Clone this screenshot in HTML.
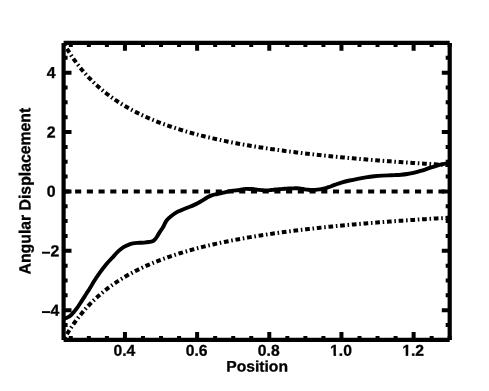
<!DOCTYPE html>
<html><head><meta charset="utf-8"><title>Angular Displacement vs Position</title>
<style>
html,body{margin:0;padding:0;background:#fff;}
body{width:489px;height:391px;overflow:hidden;}
svg{display:block;}
text{font-family:"Liberation Sans",sans-serif;font-weight:bold;font-size:15.7px;fill:#000;stroke:#000;stroke-width:0.3px;}
.yt{font-size:15.9px;}
</style></head><body>
<svg style="will-change:transform" width="489" height="391" viewBox="0 0 489 391">
<rect x="0" y="0" width="489" height="391" fill="#fff"/>
<clipPath id="c"><rect x="61.6" y="40.95" width="390.09999999999997" height="300.95"/></clipPath>
<g clip-path="url(#c)" fill="none" stroke="#000">
<path d="M63.6 191.42499999999998 H449.7" stroke-width="4" stroke-dasharray="6.1 5.62" stroke-dashoffset="0.2"/>
<path d="M63.60 42.95 L64.89 45.22 L66.17 47.42 L67.46 49.55 L68.75 51.62 L70.03 53.63 L71.32 55.59 L72.61 57.49 L73.90 59.34 L75.18 61.13 L76.47 62.88 L77.76 64.59 L79.04 66.24 L80.33 67.86 L81.62 69.43 L82.91 70.97 L84.19 72.47 L85.48 73.93 L86.77 75.35 L88.05 76.74 L89.34 78.10 L90.63 79.42 L91.91 80.72 L93.20 81.98 L94.49 83.22 L95.78 84.43 L97.06 85.61 L98.35 86.77 L99.64 87.90 L100.92 89.01 L102.21 90.09 L103.50 91.15 L104.78 92.19 L106.07 93.21 L107.36 94.21 L108.64 95.18 L109.93 96.14 L111.22 97.08 L112.51 98.00 L113.79 98.90 L115.08 99.79 L116.37 100.66 L117.65 101.51 L118.94 102.35 L120.23 103.17 L121.52 103.97 L122.80 104.77 L124.09 105.54 L125.38 106.31 L126.66 107.06 L127.95 107.79 L129.24 108.52 L130.52 109.23 L131.81 109.93 L133.10 110.62 L134.38 111.29 L135.67 111.96 L136.96 112.61 L138.25 113.26 L139.53 113.89 L140.82 114.51 L142.11 115.13 L143.39 115.73 L144.68 116.32 L145.97 116.91 L147.25 117.48 L148.54 118.05 L149.83 118.61 L151.12 119.16 L152.40 119.70 L153.69 120.23 L154.98 120.76 L156.26 121.27 L157.55 121.78 L158.84 122.29 L160.12 122.78 L161.41 123.27 L162.70 123.75 L163.99 124.23 L165.27 124.70 L166.56 125.16 L167.85 125.61 L169.13 126.06 L170.42 126.51 L171.71 126.94 L173.00 127.38 L174.28 127.80 L175.57 128.22 L176.86 128.64 L178.14 129.04 L179.43 129.45 L180.72 129.85 L182.00 130.24 L183.29 130.63 L184.58 131.01 L185.87 131.39 L187.15 131.77 L188.44 132.13 L189.73 132.50 L191.01 132.86 L192.30 133.22 L193.59 133.57 L194.87 133.92 L196.16 134.26 L197.45 134.60 L198.73 134.93 L200.02 135.26 L201.31 135.59 L202.60 135.92 L203.88 136.24 L205.17 136.55 L206.46 136.86 L207.74 137.17 L209.03 137.48 L210.32 137.78 L211.60 138.08 L212.89 138.38 L214.18 138.67 L215.47 138.96 L216.75 139.24 L218.04 139.53 L219.33 139.81 L220.61 140.08 L221.90 140.36 L223.19 140.63 L224.47 140.90 L225.76 141.16 L227.05 141.42 L228.34 141.68 L229.62 141.94 L230.91 142.19 L232.20 142.45 L233.48 142.70 L234.77 142.94 L236.06 143.19 L237.34 143.43 L238.63 143.67 L239.92 143.91 L241.21 144.14 L242.49 144.37 L243.78 144.60 L245.07 144.83 L246.35 145.06 L247.64 145.28 L248.93 145.50 L250.21 145.72 L251.50 145.94 L252.79 146.15 L254.08 146.37 L255.36 146.58 L256.65 146.79 L257.94 146.99 L259.22 147.20 L260.51 147.40 L261.80 147.60 L263.08 147.80 L264.37 148.00 L265.66 148.20 L266.95 148.39 L268.23 148.58 L269.52 148.77 L270.81 148.96 L272.09 149.15 L273.38 149.34 L274.67 149.52 L275.95 149.70 L277.24 149.88 L278.53 150.06 L279.82 150.24 L281.10 150.42 L282.39 150.59 L283.68 150.77 L284.96 150.94 L286.25 151.11 L287.54 151.28 L288.82 151.45 L290.11 151.61 L291.40 151.78 L292.69 151.94 L293.97 152.10 L295.26 152.26 L296.55 152.42 L297.83 152.58 L299.12 152.74 L300.41 152.89 L301.69 153.05 L302.98 153.20 L304.27 153.35 L305.56 153.50 L306.84 153.65 L308.13 153.80 L309.42 153.95 L310.70 154.10 L311.99 154.24 L313.28 154.38 L314.56 154.53 L315.85 154.67 L317.14 154.81 L318.43 154.95 L319.71 155.09 L321.00 155.22 L322.29 155.36 L323.57 155.50 L324.86 155.63 L326.15 155.76 L327.44 155.90 L328.72 156.03 L330.01 156.16 L331.30 156.29 L332.58 156.42 L333.87 156.54 L335.16 156.67 L336.44 156.80 L337.73 156.92 L339.02 157.04 L340.31 157.17 L341.59 157.29 L342.88 157.41 L344.17 157.53 L345.45 157.65 L346.74 157.77 L348.03 157.89 L349.31 158.00 L350.60 158.12 L351.89 158.24 L353.17 158.35 L354.46 158.46 L355.75 158.58 L357.04 158.69 L358.32 158.80 L359.61 158.91 L360.90 159.02 L362.18 159.13 L363.47 159.24 L364.76 159.35 L366.05 159.46 L367.33 159.56 L368.62 159.67 L369.91 159.77 L371.19 159.88 L372.48 159.98 L373.77 160.08 L375.05 160.19 L376.34 160.29 L377.63 160.39 L378.92 160.49 L380.20 160.59 L381.49 160.69 L382.78 160.79 L384.06 160.88 L385.35 160.98 L386.64 161.08 L387.92 161.17 L389.21 161.27 L390.50 161.36 L391.79 161.46 L393.07 161.55 L394.36 161.64 L395.65 161.74 L396.93 161.83 L398.22 161.92 L399.51 162.01 L400.79 162.10 L402.08 162.19 L403.37 162.28 L404.66 162.37 L405.94 162.45 L407.23 162.54 L408.52 162.63 L409.80 162.71 L411.09 162.80 L412.38 162.89 L413.66 162.97 L414.95 163.05 L416.24 163.14 L417.52 163.22 L418.81 163.30 L420.10 163.39 L421.39 163.47 L422.67 163.55 L423.96 163.63 L425.25 163.71 L426.53 163.79 L427.82 163.87 L429.11 163.95 L430.40 164.03 L431.68 164.11 L432.97 164.18 L434.26 164.26 L435.54 164.34 L436.83 164.42 L438.12 164.49 L439.40 164.57 L440.69 164.64 L441.98 164.72 L443.26 164.79 L444.55 164.86 L445.84 164.94 L447.13 165.01 L448.41 165.08 L449.70 165.16" stroke-width="4" stroke-dasharray="4.7 2.74 1.56 2.74" stroke-dashoffset="5.1"/>
<path d="M63.60 339.90 L64.89 337.63 L66.17 335.43 L67.46 333.30 L68.75 331.23 L70.03 329.22 L71.32 327.26 L72.61 325.36 L73.90 323.51 L75.18 321.72 L76.47 319.97 L77.76 318.26 L79.04 316.61 L80.33 314.99 L81.62 313.42 L82.91 311.88 L84.19 310.38 L85.48 308.92 L86.77 307.50 L88.05 306.11 L89.34 304.75 L90.63 303.43 L91.91 302.13 L93.20 300.87 L94.49 299.63 L95.78 298.42 L97.06 297.24 L98.35 296.08 L99.64 294.95 L100.92 293.84 L102.21 292.76 L103.50 291.70 L104.78 290.66 L106.07 289.64 L107.36 288.64 L108.64 287.67 L109.93 286.71 L111.22 285.77 L112.51 284.85 L113.79 283.95 L115.08 283.06 L116.37 282.19 L117.65 281.34 L118.94 280.50 L120.23 279.68 L121.52 278.88 L122.80 278.08 L124.09 277.31 L125.38 276.54 L126.66 275.79 L127.95 275.06 L129.24 274.33 L130.52 273.62 L131.81 272.92 L133.10 272.23 L134.38 271.56 L135.67 270.89 L136.96 270.24 L138.25 269.59 L139.53 268.96 L140.82 268.34 L142.11 267.72 L143.39 267.12 L144.68 266.53 L145.97 265.94 L147.25 265.37 L148.54 264.80 L149.83 264.24 L151.12 263.69 L152.40 263.15 L153.69 262.62 L154.98 262.09 L156.26 261.58 L157.55 261.07 L158.84 260.56 L160.12 260.07 L161.41 259.58 L162.70 259.10 L163.99 258.62 L165.27 258.15 L166.56 257.69 L167.85 257.24 L169.13 256.79 L170.42 256.34 L171.71 255.91 L173.00 255.47 L174.28 255.05 L175.57 254.63 L176.86 254.21 L178.14 253.81 L179.43 253.40 L180.72 253.00 L182.00 252.61 L183.29 252.22 L184.58 251.84 L185.87 251.46 L187.15 251.08 L188.44 250.72 L189.73 250.35 L191.01 249.99 L192.30 249.63 L193.59 249.28 L194.87 248.93 L196.16 248.59 L197.45 248.25 L198.73 247.92 L200.02 247.59 L201.31 247.26 L202.60 246.93 L203.88 246.61 L205.17 246.30 L206.46 245.99 L207.74 245.68 L209.03 245.37 L210.32 245.07 L211.60 244.77 L212.89 244.47 L214.18 244.18 L215.47 243.89 L216.75 243.61 L218.04 243.32 L219.33 243.04 L220.61 242.77 L221.90 242.49 L223.19 242.22 L224.47 241.95 L225.76 241.69 L227.05 241.43 L228.34 241.17 L229.62 240.91 L230.91 240.66 L232.20 240.40 L233.48 240.15 L234.77 239.91 L236.06 239.66 L237.34 239.42 L238.63 239.18 L239.92 238.94 L241.21 238.71 L242.49 238.48 L243.78 238.25 L245.07 238.02 L246.35 237.79 L247.64 237.57 L248.93 237.35 L250.21 237.13 L251.50 236.91 L252.79 236.70 L254.08 236.48 L255.36 236.27 L256.65 236.06 L257.94 235.86 L259.22 235.65 L260.51 235.45 L261.80 235.25 L263.08 235.05 L264.37 234.85 L265.66 234.65 L266.95 234.46 L268.23 234.27 L269.52 234.08 L270.81 233.89 L272.09 233.70 L273.38 233.51 L274.67 233.33 L275.95 233.15 L277.24 232.97 L278.53 232.79 L279.82 232.61 L281.10 232.43 L282.39 232.26 L283.68 232.08 L284.96 231.91 L286.25 231.74 L287.54 231.57 L288.82 231.40 L290.11 231.24 L291.40 231.07 L292.69 230.91 L293.97 230.75 L295.26 230.59 L296.55 230.43 L297.83 230.27 L299.12 230.11 L300.41 229.96 L301.69 229.80 L302.98 229.65 L304.27 229.50 L305.56 229.35 L306.84 229.20 L308.13 229.05 L309.42 228.90 L310.70 228.75 L311.99 228.61 L313.28 228.47 L314.56 228.32 L315.85 228.18 L317.14 228.04 L318.43 227.90 L319.71 227.76 L321.00 227.63 L322.29 227.49 L323.57 227.35 L324.86 227.22 L326.15 227.09 L327.44 226.95 L328.72 226.82 L330.01 226.69 L331.30 226.56 L332.58 226.43 L333.87 226.31 L335.16 226.18 L336.44 226.05 L337.73 225.93 L339.02 225.81 L340.31 225.68 L341.59 225.56 L342.88 225.44 L344.17 225.32 L345.45 225.20 L346.74 225.08 L348.03 224.96 L349.31 224.85 L350.60 224.73 L351.89 224.61 L353.17 224.50 L354.46 224.39 L355.75 224.27 L357.04 224.16 L358.32 224.05 L359.61 223.94 L360.90 223.83 L362.18 223.72 L363.47 223.61 L364.76 223.50 L366.05 223.39 L367.33 223.29 L368.62 223.18 L369.91 223.08 L371.19 222.97 L372.48 222.87 L373.77 222.77 L375.05 222.66 L376.34 222.56 L377.63 222.46 L378.92 222.36 L380.20 222.26 L381.49 222.16 L382.78 222.06 L384.06 221.97 L385.35 221.87 L386.64 221.77 L387.92 221.68 L389.21 221.58 L390.50 221.49 L391.79 221.39 L393.07 221.30 L394.36 221.21 L395.65 221.11 L396.93 221.02 L398.22 220.93 L399.51 220.84 L400.79 220.75 L402.08 220.66 L403.37 220.57 L404.66 220.48 L405.94 220.40 L407.23 220.31 L408.52 220.22 L409.80 220.14 L411.09 220.05 L412.38 219.96 L413.66 219.88 L414.95 219.80 L416.24 219.71 L417.52 219.63 L418.81 219.55 L420.10 219.46 L421.39 219.38 L422.67 219.30 L423.96 219.22 L425.25 219.14 L426.53 219.06 L427.82 218.98 L429.11 218.90 L430.40 218.82 L431.68 218.74 L432.97 218.67 L434.26 218.59 L435.54 218.51 L436.83 218.43 L438.12 218.36 L439.40 218.28 L440.69 218.21 L441.98 218.13 L443.26 218.06 L444.55 217.99 L445.84 217.91 L447.13 217.84 L448.41 217.77 L449.70 217.69" stroke-width="4" stroke-dasharray="4.7 2.74 1.56 2.74" stroke-dashoffset="5.1"/>
<path d="M63.60 318.90 C64.08 318.73 65.60 318.27 66.50 317.90 C67.40 317.53 68.17 317.25 69.00 316.70 C69.83 316.15 70.27 315.90 71.50 314.60 C72.73 313.30 74.77 311.07 76.40 308.90 C78.03 306.73 79.67 304.08 81.30 301.60 C82.93 299.12 84.72 296.30 86.20 294.00 C87.68 291.70 88.87 289.97 90.20 287.80 C91.53 285.63 92.53 283.60 94.20 281.00 C95.87 278.40 98.15 275.03 100.20 272.20 C102.25 269.37 104.53 266.37 106.50 264.00 C108.47 261.63 110.02 260.13 112.00 258.00 C113.98 255.87 116.48 253.00 118.40 251.20 C120.32 249.40 121.65 248.35 123.50 247.20 C125.35 246.05 127.68 244.98 129.50 244.30 C131.32 243.62 132.77 243.35 134.40 243.10 C136.03 242.85 137.67 242.88 139.30 242.80 C140.93 242.72 142.57 242.73 144.20 242.60 C145.83 242.47 147.72 242.23 149.10 242.00 C150.48 241.77 151.52 241.65 152.50 241.20 C153.48 240.75 154.20 240.13 155.00 239.30 C155.80 238.47 156.52 237.40 157.30 236.20 C158.08 235.00 158.75 233.60 159.70 232.10 C160.65 230.60 162.00 228.90 163.00 227.20 C164.00 225.50 164.78 223.37 165.70 221.90 C166.62 220.43 167.23 219.63 168.50 218.40 C169.77 217.17 171.72 215.63 173.30 214.50 C174.88 213.37 176.40 212.43 178.00 211.60 C179.60 210.77 181.27 210.18 182.90 209.50 C184.53 208.82 186.17 208.15 187.80 207.50 C189.43 206.85 191.07 206.30 192.70 205.60 C194.33 204.90 195.95 204.17 197.60 203.30 C199.25 202.43 200.95 201.42 202.60 200.40 C204.25 199.38 205.87 198.08 207.50 197.20 C209.13 196.32 210.77 195.63 212.40 195.10 C214.03 194.57 215.50 194.42 217.30 194.00 C219.10 193.58 220.85 193.12 223.20 192.60 C225.55 192.08 228.68 191.33 231.40 190.90 C234.12 190.47 237.18 190.33 239.50 190.00 C241.82 189.67 243.43 189.07 245.30 188.90 C247.17 188.73 249.08 188.92 250.70 189.00 C252.32 189.08 253.60 189.25 255.00 189.40 C256.40 189.55 257.73 189.75 259.10 189.90 C260.47 190.05 261.83 190.20 263.20 190.30 C264.57 190.40 265.93 190.55 267.30 190.50 C268.67 190.45 270.05 190.17 271.40 190.00 C272.75 189.83 273.88 189.65 275.40 189.50 C276.92 189.35 278.88 189.22 280.50 189.10 C282.12 188.98 283.65 188.90 285.10 188.80 C286.55 188.70 287.75 188.57 289.20 188.50 C290.65 188.43 292.50 188.38 293.80 188.35 C295.10 188.32 295.78 188.26 297.00 188.30 C298.22 188.34 299.82 188.43 301.10 188.60 C302.38 188.77 303.50 189.10 304.70 189.30 C305.90 189.50 307.10 189.68 308.30 189.80 C309.50 189.92 310.72 189.98 311.90 190.00 C313.08 190.02 314.13 190.00 315.40 189.90 C316.67 189.80 318.13 189.60 319.50 189.40 C320.87 189.20 322.23 189.03 323.60 188.70 C324.97 188.37 326.33 187.85 327.70 187.40 C329.07 186.95 330.50 186.47 331.80 186.00 C333.10 185.53 333.90 185.17 335.50 184.60 C337.10 184.03 339.07 183.28 341.40 182.60 C343.73 181.92 346.78 181.13 349.50 180.50 C352.22 179.87 354.97 179.32 357.70 178.80 C360.43 178.28 363.17 177.82 365.90 177.40 C368.63 176.98 371.37 176.60 374.10 176.30 C376.83 176.00 379.57 175.77 382.30 175.60 C385.03 175.43 388.38 175.38 390.50 175.30 C392.62 175.22 393.23 175.20 395.00 175.10 C396.77 175.00 399.05 174.88 401.10 174.70 C403.15 174.52 405.25 174.30 407.30 174.00 C409.35 173.70 411.37 173.37 413.40 172.90 C415.43 172.43 417.45 171.80 419.50 171.20 C421.55 170.60 423.65 169.97 425.70 169.30 C427.75 168.63 429.77 167.87 431.80 167.20 C433.83 166.53 435.85 165.85 437.90 165.30 C439.95 164.75 442.13 164.23 444.10 163.90 C446.07 163.57 448.77 163.40 449.70 163.30" stroke-width="3.9" stroke-linejoin="round"/>
</g>
<path d="M70.82 339.90 v-4.00 M70.82 42.95 v4.00 M88.86 339.90 v-4.00 M88.86 42.95 v4.00 M106.90 339.90 v-4.00 M106.90 42.95 v4.00 M124.94 339.90 v-7.90 M124.94 42.95 v7.90 M142.99 339.90 v-4.00 M142.99 42.95 v4.00 M161.03 339.90 v-4.00 M161.03 42.95 v4.00 M179.07 339.90 v-4.00 M179.07 42.95 v4.00 M197.11 339.90 v-7.90 M197.11 42.95 v7.90 M215.15 339.90 v-4.00 M215.15 42.95 v4.00 M233.20 339.90 v-4.00 M233.20 42.95 v4.00 M251.24 339.90 v-4.00 M251.24 42.95 v4.00 M269.28 339.90 v-7.90 M269.28 42.95 v7.90 M287.32 339.90 v-4.00 M287.32 42.95 v4.00 M305.36 339.90 v-4.00 M305.36 42.95 v4.00 M323.41 339.90 v-4.00 M323.41 42.95 v4.00 M341.45 339.90 v-7.90 M341.45 42.95 v7.90 M359.49 339.90 v-4.00 M359.49 42.95 v4.00 M377.53 339.90 v-4.00 M377.53 42.95 v4.00 M395.57 339.90 v-4.00 M395.57 42.95 v4.00 M413.62 339.90 v-7.90 M413.62 42.95 v7.90 M431.66 339.90 v-4.00 M431.66 42.95 v4.00 M449.70 339.90 v-4.00 M449.70 42.95 v4.00 M63.60 325.05 h4.00 M449.70 325.05 h-4.00 M63.60 310.20 h7.90 M449.70 310.20 h-7.90 M63.60 295.36 h4.00 M449.70 295.36 h-4.00 M63.60 280.51 h4.00 M449.70 280.51 h-4.00 M63.60 265.66 h4.00 M449.70 265.66 h-4.00 M63.60 250.81 h7.90 M449.70 250.81 h-7.90 M63.60 235.97 h4.00 M449.70 235.97 h-4.00 M63.60 221.12 h4.00 M449.70 221.12 h-4.00 M63.60 206.27 h4.00 M449.70 206.27 h-4.00 M63.60 191.42 h7.90 M449.70 191.42 h-7.90 M63.60 176.58 h4.00 M449.70 176.58 h-4.00 M63.60 161.73 h4.00 M449.70 161.73 h-4.00 M63.60 146.88 h4.00 M449.70 146.88 h-4.00 M63.60 132.03 h7.90 M449.70 132.03 h-7.90 M63.60 117.19 h4.00 M449.70 117.19 h-4.00 M63.60 102.34 h4.00 M449.70 102.34 h-4.00 M63.60 87.49 h4.00 M449.70 87.49 h-4.00 M63.60 72.64 h7.90 M449.70 72.64 h-7.90 M63.60 57.80 h4.00 M449.70 57.80 h-4.00" fill="none" stroke="#000" stroke-width="4.0"/>
<path d="M63.6 42.95H449.7M449.7 42.95V339.9M449.7 339.9H63.6M63.6 339.9V42.95" fill="none" stroke="#000" stroke-width="4.2"/>
<text transform="translate(124.44 355.8) rotate(0.05)" text-anchor="middle">0.4</text>
<text transform="translate(196.61 355.8) rotate(0.05)" text-anchor="middle">0.6</text>
<text transform="translate(268.78 355.8) rotate(0.05)" text-anchor="middle">0.8</text>
<text transform="translate(340.95 355.8) rotate(0.05)" text-anchor="middle">1.0</text>
<rect x="329.79" y="353.7" width="3.7" height="2.6" fill="#fff"/><rect x="336.09" y="353.7" width="2.7" height="2.6" fill="#fff"/>
<text transform="translate(413.12 355.8) rotate(0.05)" text-anchor="middle">1.2</text>
<rect x="401.95" y="353.7" width="3.7" height="2.6" fill="#fff"/><rect x="408.25" y="353.7" width="2.7" height="2.6" fill="#fff"/>
<text class="yt" transform="translate(55.6 78.04) rotate(0.05)" text-anchor="end">4</text>
<text class="yt" transform="translate(55.6 137.43) rotate(0.05)" text-anchor="end">2</text>
<text class="yt" transform="translate(55.6 196.82) rotate(0.05)" text-anchor="end">0</text>
<text class="yt" transform="translate(59.4 256.31) rotate(0.05)" text-anchor="end">2</text>
<rect x="42.0" y="251.77" width="8.0" height="1.9" fill="#000"/>
<text class="yt" transform="translate(59.4 315.70) rotate(0.05)" text-anchor="end">4</text>
<rect x="42.0" y="311.15" width="8.0" height="1.9" fill="#000"/>
<text transform="translate(257.1 371.6) rotate(0.05) scale(1 0.965)" text-anchor="middle">Position</text>
<text transform="translate(30.4 191.1) rotate(-90.05) scale(1.006 1.035)" text-anchor="middle">Angular Displacement</text>
</svg>
</body></html>
